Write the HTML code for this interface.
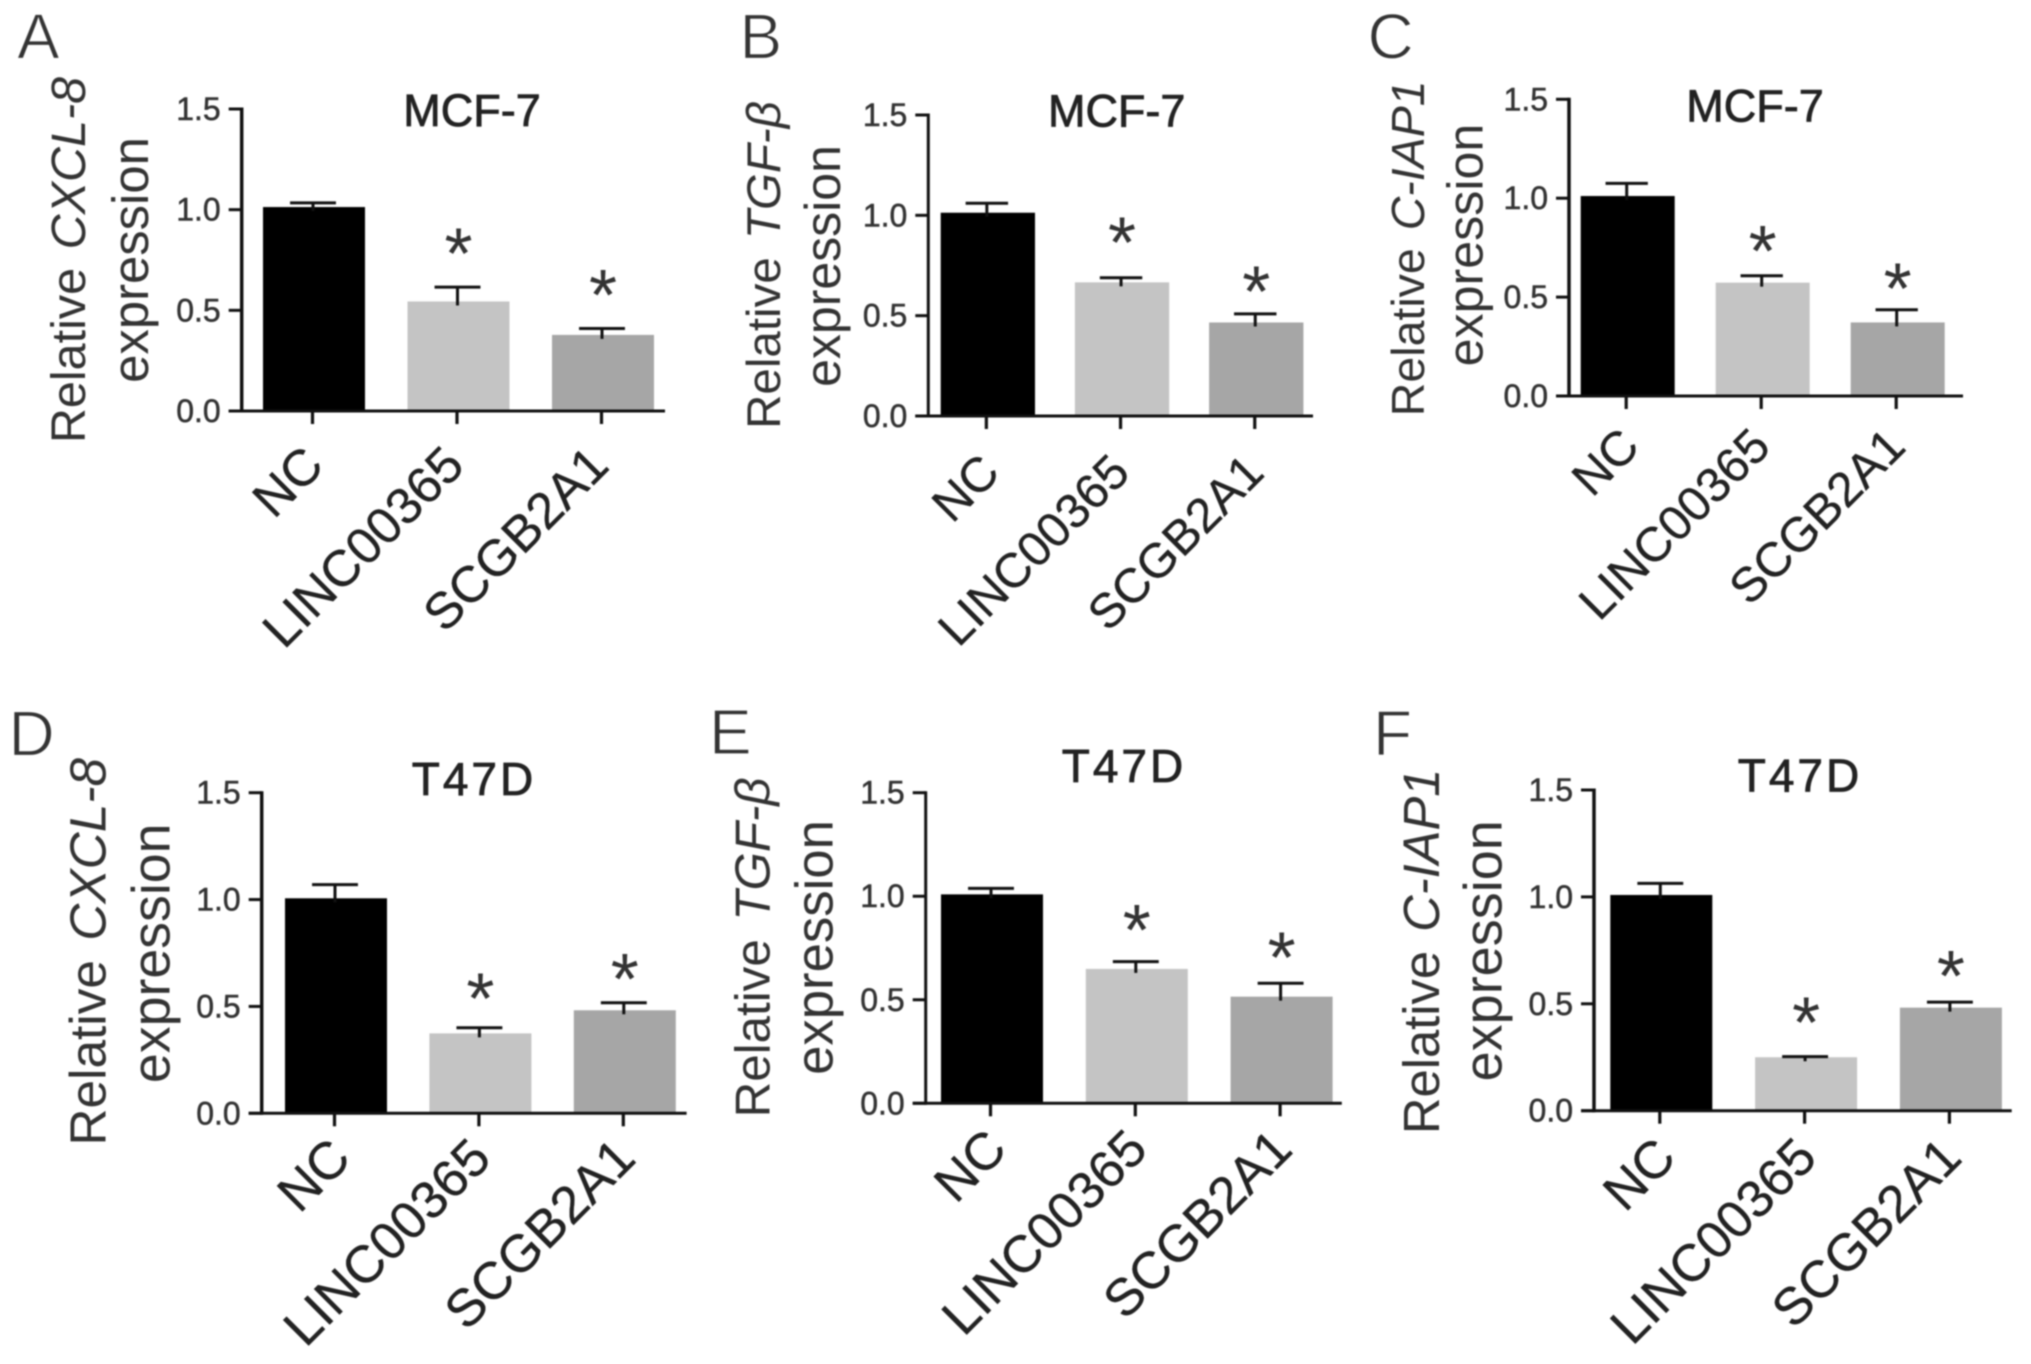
<!DOCTYPE html>
<html lang="en">
<head>
<meta charset="utf-8">
<title>Relative expression bar charts</title>
<style>
html,body{margin:0;padding:0;background:#fff;}
svg{display:block;filter:blur(0.7px);font-family:"Liberation Sans",Arial,sans-serif;}
</style>
</head>
<body>
<svg id="figure" xmlns="http://www.w3.org/2000/svg" width="2031" height="1364" viewBox="0 0 2031 1364"></svg>
<script>
const categories = ['NC', 'LINC00365', 'SCGB2A1'];
const yTickValues = [0, 0.5, 1, 1.5];
const yTickLabels = ['0.0', '0.5', '1.0', '1.5'];
const yMax = 1.5;

const meansA = [1.013, 0.544, 0.378];
const errTopsA = [1.034, 0.615, 0.41];
const starLevelsA = [null, 0.836, 0.63];

const meansB = [1.013, 0.666, 0.466];
const errTopsB = [1.06, 0.689, 0.509];
const starLevelsB = [null, 0.92, 0.675];

const meansC = [1.011, 0.573, 0.372];
const errTopsC = [1.075, 0.608, 0.436];
const starLevelsC = [null, 0.789, 0.599];

const meansD = [1.006, 0.374, 0.482];
const errTopsD = [1.07, 0.40, 0.517];
const starLevelsD = [null, 0.588, 0.68];

const meansE = [1.009, 0.649, 0.515];
const errTopsE = [1.038, 0.684, 0.58];
const starLevelsE = [null, 0.89, 0.758];

const meansF = [1.009, 0.25, 0.482];
const errTopsF = [1.063, 0.253, 0.508];
const starLevelsF = [null, 0.463, 0.681];

const barColors = ['#000000', '#c4c4c4', '#a6a6a6'];
const NS = 'http://www.w3.org/2000/svg';
const root = document.getElementById('figure');

function make(parent, tag, attrs, text) {
  const el = document.createElementNS(NS, tag);
  for (const k in attrs) el.setAttribute(k, attrs[k]);
  if (text !== undefined) el.textContent = text;
  parent.appendChild(el);
  return el;
}

function drawPanel(cfg, means, errTops, starLevels) {
  const g = make(root, 'g', {});
  
  

  const yScale = function (v) { return cfg.y0 - (v / yMax) * (cfg.y0 - cfg.yTop); };
  const xLeft = function (i) { return cfg.barStart + i * cfg.barStep; };
  const xMid = function (i) { return xLeft(i) + cfg.barWidth / 2; };
  const ink = '#111';
  const capHalf = cfg.barWidth * 0.225;
  const starSize = 72;

  const letter = make(g, 'text', { x: cfg.letterX, y: cfg.letterY, 'font-size': 64, fill: '#333', stroke: '#fff', 'stroke-width': 1.2 }, cfg.letter);
  
  

  const title = make(g, 'text', { x: cfg.titleX, y: cfg.titleY, 'font-size': cfg.titleSize, 'text-anchor': 'middle', fill: '#222', stroke: '#222', 'stroke-width': 0.8, 'letter-spacing': cfg.titleSpacing }, cfg.title);
  
  

  const yTitle1 = make(g, 'text', { transform: 'translate(' + cfg.b1 + ',' + cfg.cy1 + ') rotate(-90)', 'font-size': cfg.fs1, 'text-anchor': 'middle', fill: '#333' });
  
  
  make(yTitle1, 'tspan', {}, 'Relative ');
  make(yTitle1, 'tspan', { 'font-style': 'italic', dx: 5 }, cfg.gene);

  const yTitle2 = make(g, 'text', { transform: 'translate(' + cfg.b2 + ',' + cfg.cy2 + ') rotate(-90)', 'font-size': cfg.fs2, 'text-anchor': 'middle', fill: '#333' }, 'expression');
  
  

  categories.forEach(function (cat, i) {
    const bar = make(g, 'rect', { x: xLeft(i), y: yScale(means[i]), width: cfg.barWidth, height: cfg.y0 - yScale(means[i]), fill: barColors[i] });
    
    

    const stem = make(g, 'line', { x1: xMid(i) - 1, x2: xMid(i) - 1, y1: yScale(errTops[i]), y2: yScale(means[i]) + 4, stroke: ink, 'stroke-width': 3 });
    
    

    const cap = make(g, 'line', { x1: xMid(i) - 1 - capHalf, x2: xMid(i) - 1 + capHalf, y1: yScale(errTops[i]), y2: yScale(errTops[i]), stroke: ink, 'stroke-width': 3 });
    
    

    const tick = make(g, 'line', { x1: xMid(i) - 1.5, x2: xMid(i) - 1.5, y1: cfg.y0, y2: cfg.y0 + 13, stroke: ink, 'stroke-width': 3.2 });
    
    

    const nudge = i === 0 ? 4 : 0;
    const lab = make(g, 'text', { transform: 'translate(' + (xMid(i) + 7 + cfg.labelDx + nudge) + ',' + (cfg.y0 + cfg.labelDy + 0.41 * cfg.labelSize) + ') rotate(-45)', 'font-size': cfg.labelSize, 'text-anchor': 'end', fill: '#222', stroke: '#222', 'stroke-width': 0.3 }, cat);
    
    

    if (starLevels[i] !== null) {
      const star = make(g, 'text', { x: xMid(i), y: yScale(starLevels[i]) + 0.5 * starSize, 'font-size': starSize, 'text-anchor': 'middle', fill: '#333' }, '*');
      
      
    }
  });

  yTickValues.forEach(function (v, i) {
    const tick = make(g, 'line', { x1: cfg.axisX - 13, x2: cfg.axisX, y1: yScale(v), y2: yScale(v), stroke: ink, 'stroke-width': 3 });
    
    

    const lab = make(g, 'text', { x: cfg.axisX - 21, y: yScale(v) + 11, 'font-size': 32, 'text-anchor': 'end', fill: '#333', stroke: '#333', 'stroke-width': 0.5 }, yTickLabels[i]);
    
    
  });

  const yAxis = make(g, 'line', { x1: cfg.axisX, x2: cfg.axisX, y1: yScale(yMax) - 1.5, y2: cfg.y0 + 1.5, stroke: ink, 'stroke-width': cfg.axisW });
  
  

  const xAxis = make(g, 'line', { x1: cfg.axisX - 13, x2: cfg.xEnd, y1: cfg.y0, y2: cfg.y0, stroke: ink, 'stroke-width': 3 });
  
  
}

drawPanel({ letter: 'A', letterX: 17, letterY: 58.5, title: 'MCF-7', titleX: 472, titleY: 126, titleSize: 45, titleSpacing: 0, gene: 'CXCL-8', b1: 85, b2: 148, cy1: 260, cy2: 260, fs1: 48.5, fs2: 50.8, labelSize: 51, labelDy: 36, labelDx: 1, axisX: 241.7, axisW: 3.5, xEnd: 665, yTop: 109, y0: 411, barStart: 263, barStep: 144.5, barWidth: 102 }, meansA, errTopsA, starLevelsA);
drawPanel({ letter: 'B', letterX: 739.5, letterY: 58.5, title: 'MCF-7', titleX: 1116.7, titleY: 126.7, titleSize: 45, titleSpacing: 0, gene: 'TGF-β', b1: 780, b2: 840, cy1: 265, cy2: 266, fs1: 47.5, fs2: 50, labelSize: 48.5, labelDy: 39, labelDx: 3, axisX: 928.3, axisW: 3, xEnd: 1313, yTop: 115, y0: 416, barStart: 940.7, barStep: 134.2, barWidth: 94.3 }, meansB, errTopsB, starLevelsB);
drawPanel({ letter: 'C', letterX: 1367.5, letterY: 58.5, title: 'MCF-7', titleX: 1755, titleY: 121.7, titleSize: 45, titleSpacing: 0, gene: 'C-IAP1', b1: 1424, b2: 1482.7, cy1: 248.3, cy2: 245, fs1: 46.5, fs2: 50.2, labelSize: 48.5, labelDy: 33, labelDx: 3, axisX: 1569, axisW: 3.5, xEnd: 1963, yTop: 99.3, y0: 396, barStart: 1580.7, barStep: 135, barWidth: 94 }, meansC, errTopsC, starLevelsC);
drawPanel({ letter: 'D', letterX: 8.5, letterY: 755.5, title: 'T47D', titleX: 474, titleY: 795, titleSize: 46, titleSpacing: 3, gene: 'CXCL-8', b1: 105.7, b2: 169.3, cy1: 951.8, cy2: 953.3, fs1: 51.4, fs2: 53.7, labelSize: 52.5, labelDy: 26, labelDx: 6, axisX: 261.7, axisW: 3.5, xEnd: 686.6, yTop: 792.7, y0: 1113.3, barStart: 285, barStep: 144.4, barWidth: 102 }, meansD, errTopsD, starLevelsD);
drawPanel({ letter: 'E', letterX: 709, letterY: 754, title: 'T47D', titleX: 1124, titleY: 782, titleSize: 46, titleSpacing: 3, gene: 'TGF-β', b1: 769.4, b2: 832.7, cy1: 947.4, cy2: 947.5, fs1: 49.3, fs2: 52.7, labelSize: 52, labelDy: 27, labelDx: 6, axisX: 925.7, axisW: 3, xEnd: 1341.8, yTop: 792.7, y0: 1103.3, barStart: 941, barStep: 144.8, barWidth: 102 }, meansE, errTopsE, starLevelsE);
drawPanel({ letter: 'F', letterX: 1373, letterY: 755.5, title: 'T47D', titleX: 1800, titleY: 791.7, titleSize: 46, titleSpacing: 3, gene: 'C-IAP1', b1: 1439, b2: 1501.7, cy1: 951.3, cy2: 950.8, fs1: 50.7, fs2: 54, labelSize: 52.2, labelDy: 28, labelDx: 6, axisX: 1594, axisW: 3.5, xEnd: 2011.7, yTop: 790, y0: 1110.7, barStart: 1610.3, barStep: 144.8, barWidth: 102 }, meansF, errTopsF, starLevelsF);
</script>
</body>
</html>
